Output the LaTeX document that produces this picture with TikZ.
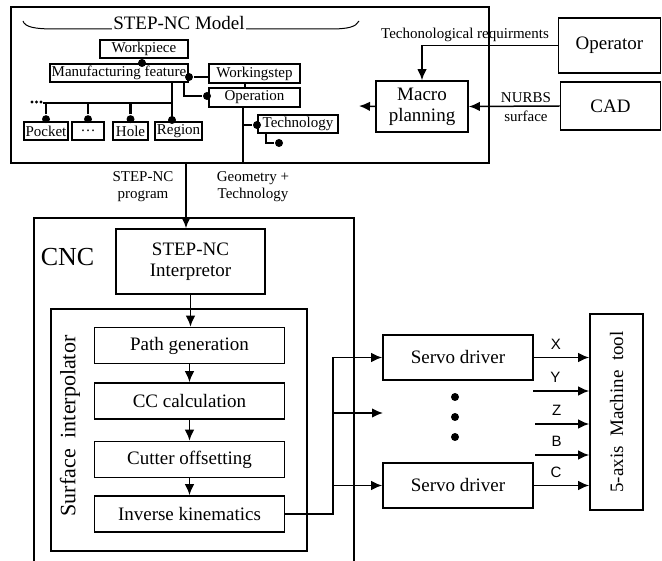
\documentclass[tikz,border=0pt]{standalone}
\usepackage{fontspec}
\setmainfont{Liberation Serif}
\newfontfamily\axisfont{Liberation Sans}
\usetikzlibrary{arrows.meta}

\begin{document}
\begin{tikzpicture}[x=1pt, y=-1pt, line width=1.5pt,
    >={Latex[length=11pt,width=9.5pt]},
    small/.style={font=\fontsize{15}{17}\selectfont},
    big/.style={font=\fontsize{19}{21}\selectfont},
    box/.style={draw, line width=1.7pt, inner sep=1pt, align=center},
    dot/.style={circle, fill, inner sep=0pt, minimum size=8pt},
    bus/.style={line width=2.8pt},
    axis/.style={font=\axisfont\fontsize{15}{17}\selectfont, above=4pt, pos=0.4}]

    % Define picture size
    \useasboundingbox (0,0) rectangle (662,561);

    % Draw STEP-NC model frame
    \node[box, minimum width=478, minimum height=156] (model) at (250,85) {};
    \draw[line width=1pt] (23,21) .. controls (25,27) and (34,29) .. (55,29) -- (330,29) .. controls (348,29) and (356,27) .. (359,21);
    \node[fill=white, inner sep=1pt, font=\fontsize{19}{21}\selectfont] (modeltitle) at (179,23) {STEP-NC Model};

    % Draw STEP-NC entities
    \node[box, small, minimum width=88, minimum height=18] (workpiece) at (144,49) {Workpiece};
    \node[box, small, minimum width=138, minimum height=18] (feature) at (119,73) {Manufacturing feature};
    \node[box, small, minimum width=91, minimum height=19] (workingstep) at (254.5,73.5) {Workingstep};
    \node[box, small, minimum width=91, minimum height=19] (operation) at (254.5,97.5) {Operation};
    \node[box, small, minimum width=80, minimum height=18] (technology) at (298,124) {Technology};
    \node[box, small, minimum width=44, minimum height=18] (pocket) at (46,131) {Pocket};
    \node[box, small, minimum width=32, minimum height=18] (etc) at (88,131) {\dots};
    \node[box, small, minimum width=35, minimum height=18] (hole) at (130.5,131) {Hole};
    \node[box, small, minimum width=47, minimum height=18] (region) at (178.5,131) {Region};

    % Draw links between entities
    \node[dot] (dwork) at (142,63) {};
    \draw (dwork) -- (dwork |- workpiece.south);
    \node[dot] (dstep) at (189,77) {};
    \draw (dstep) -- (dstep -| workingstep.west);
    \node[dot] (doper) at (207,96) {};
    \draw ([xshift=65pt]feature.south) |- (doper);
    \draw ([xshift=-9.5pt]workingstep.south) -- ([xshift=-9.5pt]operation.north);
    \coordinate (opfoot) at (243,163);
    \draw (opfoot |- operation.south) -- (opfoot);
    \node[dot] (dtech) at (257,125) {};
    \draw (opfoot |- dtech) -- (dtech);
    \node[dot] (dtail) at (279,143) {};
    \draw ([xshift=-32pt]technology.south) |- (dtail);

    % Draw feature tree
    \node[dot] (dregion) at (172,120) {};
    \draw[bus] (dregion |- feature.south) -- (dregion |- region.north);
    \coordinate (busend) at (43,103);
    \draw[bus] (busend) -- (busend -| dregion);
    \foreach \name in {pocket,etc,hole}{
        \node[dot] (d\name) at ([yshift=2pt]\name.north) {};
        \draw[bus] (d\name) -- (d\name |- busend);
    }
    \foreach \x in {32,36.5,41}
        \fill (\x,102) circle (1.6);

    % Draw inputs of the model
    \node[box, big, minimum width=92, minimum height=51] (macro) at (422,106.5) {Macro\\planning};
    \node[box, big, minimum width=102, minimum height=55] (operator) at (609.5,45.5) {Operator};
    \node[box, big, minimum width=100, minimum height=48] (cad) at (610.5,106) {CAD};
    \coordinate (macroout) at (359,106);
    \draw[->] (macro.west) -- (macroout);
    \draw[->] (operator.west) -| (macro.north);
    \node[small] (reqlabel) at (465,35) {Techonological requirments};
    \draw[->] (cad.west) -- (macro.east);
    \node[small] (nurbslabel) at (526,98) {NURBS};
    \node[small] (surflabel) at (526,116) {surface};

    % Draw program flow
    \coordinate (progout) at (186,163);
    \node[small, align=center] (proglabel) at (143,187) {STEP-NC\\program};
    \node[small, align=center] (geomlabel) at (253,187) {Geometry +\\Technology};

    % Draw CNC
    \draw[line width=1.6pt] (34,561) -- (34,218) -- (354,218) -- (354,561);
    \node[font=\fontsize{26}{28}\selectfont] (cnclabel) at (67.5,257) {CNC};
    \node[box, big, minimum width=149, minimum height=65] (interp) at (190.5,261.5) {STEP-NC\\Interpretor};
    \draw[->] (progout) -- (progout |- interp.north);
    \node[box, minimum width=256, minimum height=242] (surf) at (179,430) {};
    \node[rotate=90, font=\fontsize{22}{24}\selectfont] (surftitle) at (70,426) {Surface\ \ interpolator};
    \foreach \name/\y/\txt in {path/345.5/Path generation, cc/401/CC calculation, offset/459.5/Cutter offsetting, kin/514/Inverse kinematics}
        \node[box, big, minimum width=190, minimum height=36] (\name) at (189.5,\y) {\txt};
    \draw[->] (interp.south) -- (interp.south |- path.north);
    \foreach \a/\b in {path/cc, cc/offset, offset/kin}
        \draw[->] (\a) -- (\b);

    % Draw servo drivers
    \node[box, big, minimum width=150, minimum height=45] (servo1) at (458,357.5) {Servo driver};
    \node[box, big, minimum width=150, minimum height=45] (servo2) at (458,485.5) {Servo driver};
    \coordinate (midin) at (383,413);
    \draw[->] (kin.east) -| ([xshift=-49pt]servo1.west) -- (servo1.west);
    \draw[->] ([xshift=-49pt]midin) -- (midin);
    \draw[->] ([xshift=-49pt]servo2.west) -- (servo2.west);
    \foreach \y in {397,417,437}
        \fill (455,\y) circle (4);

    % Draw machine tool and axes
    \node[box, minimum width=53, minimum height=196] (machine) at (616.5,412) {};
    \node[rotate=90, big] (machinelabel) at (machine) {5-axis\ \ Machine\ \ tool};
    \coordinate (ystart) at (533,391);
    \coordinate (zstart) at (535,424);
    \coordinate (bstart) at (535,455);
    \draw[->] (servo1.east) -- (servo1.east -| machine.west) node[axis] {X};
    \draw[->] (ystart) -- (ystart -| machine.west) node[axis] {Y};
    \draw[->] (zstart) -- (zstart -| machine.west) node[axis] {Z};
    \draw[->] (bstart) -- (bstart -| machine.west) node[axis] {B};
    \draw[->] (servo2.east) -- (servo2.east -| machine.west) node[axis] {C};

\end{tikzpicture}
\end{document}
